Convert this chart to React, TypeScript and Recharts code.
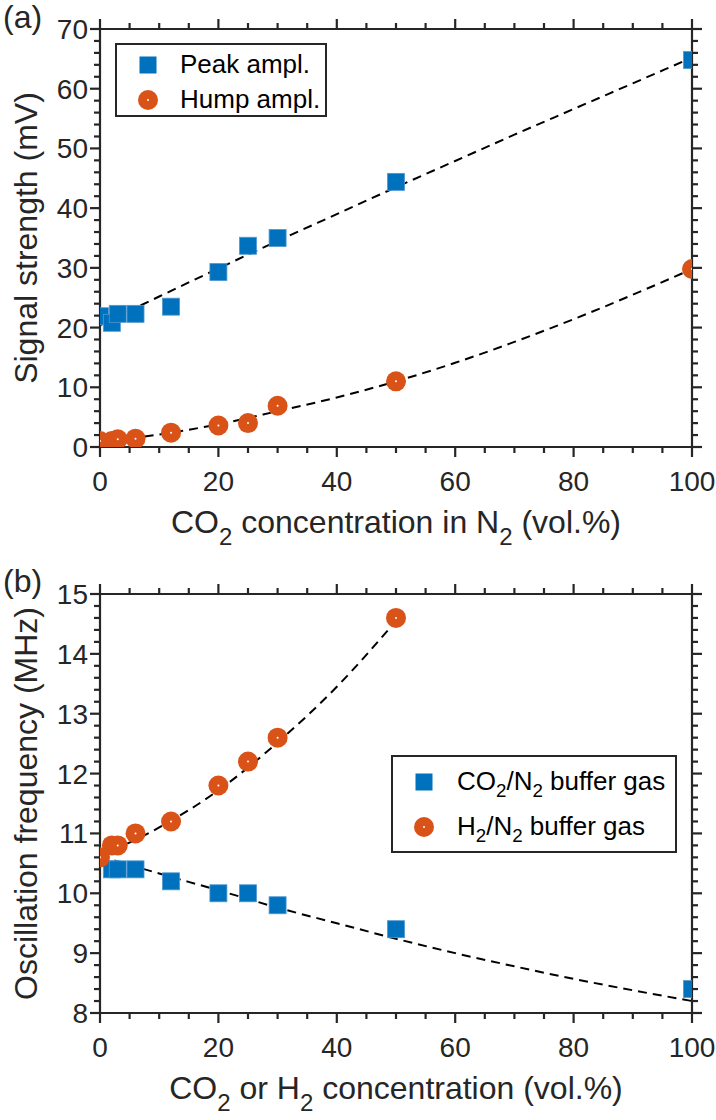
import React from "react";
import { ComposedChart, Scatter, Line, XAxis, YAxis, Legend } from "recharts";

const FONT = '"Liberation Sans", Arial, Helvetica, sans-serif';
const INK = "#262626";
const BLUE = "#0072BD";
const ORANGE = "#D95319";

// panel (a): signal strength vs CO2 concentration
const concA = [0, 2, 3, 6, 12, 20, 25, 30, 50, 100];
const peakAmpl = [21.9, 20.8, 22.3, 22.3, 23.5, 29.3, 33.7, 35.0, 44.4, 64.8];
const humpAmpl = [1.0, 1.0, 1.3, 1.4, 2.4, 3.6, 4.0, 6.9, 11.0, 29.8];
const fitXA = [0, 10, 20, 30, 40, 50, 60, 70, 80, 90, 100];
const peakFit = [20.4, 25.2, 29.9, 34.5, 39.0, 43.5, 47.9, 52.3, 56.6, 60.9, 65.2];
const humpFit = [0.8, 2.1, 3.8, 6.0, 8.3, 11.0, 14.1, 17.6, 21.4, 25.5, 29.8];

// panel (b): oscillation frequency vs CO2 / H2 concentration
const concCO2 = [0, 2, 3, 6, 12, 20, 25, 30, 50, 100];
const co2Freq = [10.6, 10.4, 10.4, 10.4, 10.2, 10.0, 10.0, 9.8, 9.4, 8.4];
const concH2 = [0, 2, 3, 6, 12, 20, 25, 30, 50];
const h2Freq = [10.6, 10.8, 10.8, 11.0, 11.2, 11.8, 12.2, 12.6, 14.6];
const fitXCO2 = [0, 10, 20, 30, 40, 50, 60, 70, 80, 90, 100];
const co2Fit = [10.62, 10.33, 10.05, 9.76, 9.5, 9.24, 9.0, 8.78, 8.57, 8.38, 8.2];
const fitXH2 = [0, 10, 20, 30, 40, 50];
const h2Fit = [10.62, 11.1, 11.72, 12.52, 13.45, 14.55];

// tick positions (major ones get labels)
const xTicks = [0, 5, 10, 15, 20, 25, 30, 35, 40, 45, 50, 55, 60, 65, 70, 75, 80, 85, 90, 95, 100];
const yTicksA = Array.from({ length: 36 }, (_, i) => i * 2);
const yTicksB = Array.from({ length: 36 }, (_, i) => +(8 + i * 0.2).toFixed(1));

const pts = (xs: number[], ys: number[]) => xs.map((x, i) => ({ x, y: ys[i] }));

const isMajor = (v: number, step: number) => Math.abs(v / step - Math.round(v / step)) < 1e-6;

function makeTick(side: "bottom" | "top" | "left" | "right", step: number, labels: boolean) {
  return (p: any) => {
    const { x, y, payload } = p;
    const v = payload.value;
    const major = isMajor(v, step);
    const len = major ? 10 : 6;
    let line;
    if (side === "bottom") line = <line x1={x} x2={x} y1={y} y2={y + len} stroke={INK} strokeWidth={2.2} />;
    else if (side === "top") line = <line x1={x} x2={x} y1={y} y2={y - len} stroke={INK} strokeWidth={2.2} />;
    else if (side === "left") line = <line x1={x} x2={x - len} y1={y} y2={y} stroke={INK} strokeWidth={2.2} />;
    else line = <line x1={x} x2={x + len} y1={y} y2={y} stroke={INK} strokeWidth={2.2} />;
    return (
      <g>
        {line}
        {labels && major && side === "bottom" && (
          <text x={x} y={y + 44} textAnchor="middle" fontSize={28} fill={INK} fontFamily={FONT}>
            {v}
          </text>
        )}
        {labels && major && side === "left" && (
          <text x={x - 12} y={y + 10} textAnchor="end" fontSize={28} fill={INK} fontFamily={FONT}>
            {v}
          </text>
        )}
      </g>
    );
  };
}

const squareShape = (p: any) => (
  <rect x={p.cx - 8.5} y={p.cy - 8.5} width={17} height={17} fill={BLUE} stroke="#4f97d3" strokeWidth={0.8} />
);
const circleShape = (p: any) => (
  <g>
    <circle cx={p.cx} cy={p.cy} r={10} fill={ORANGE} />
    <circle cx={p.cx} cy={p.cy} r={1} fill="#fff" />
  </g>
);

function Marker({ kind }: { kind: string }) {
  return (
    <svg width={22} height={22} style={{ display: "block" }}>
      {kind === "square" ? (
        <rect x={2.5} y={2.5} width={17} height={17} fill={BLUE} />
      ) : (
        <g>
          <circle cx={11} cy={11} r={10} fill={ORANGE} />
          <circle cx={11} cy={11} r={1} fill="#fff" />
        </g>
      )}
    </svg>
  );
}

const subStyle: React.CSSProperties = { fontSize: "0.72em", verticalAlign: "-0.38em", lineHeight: 0 };

function LegendBox({ width, height, rowH, padTop, textX, rows }: any) {
  return (
    <div
      style={{
        width,
        height,
        boxSizing: "border-box",
        border: `2px solid ${INK}`,
        background: "#fff",
        paddingTop: padTop,
        fontFamily: FONT,
        fontSize: 26,
        color: "#000",
      }}
    >
      {rows.map((r: any, i: number) => (
        <div key={i} style={{ height: rowH, display: "flex", alignItems: "center", position: "relative" }}>
          <div style={{ position: "absolute", left: 20 }}>
            <Marker kind={r.kind} />
          </div>
          <div style={{ position: "absolute", left: textX - 2, whiteSpace: "nowrap" }}>{r.label}</div>
        </div>
      ))}
    </div>
  );
}

const yLabelA = (props: any) => {
  const vb = props.viewBox;
  return (
    <g fontFamily={FONT} fill={INK}>
      <text x={3} y={28} fontSize={32}>(a)</text>
      <text transform={`translate(37, ${vb.y + vb.height / 2}) rotate(-90)`} textAnchor="middle" fontSize={32}>
        Signal strength (mV)
      </text>
    </g>
  );
};

const xLabelA = (props: any) => {
  const vb = props.viewBox;
  return (
    <text x={vb.x + vb.width / 2} y={vb.y + 86} textAnchor="middle" fontSize={32} fontFamily={FONT} fill={INK}>
      <tspan>CO</tspan>
      <tspan fontSize={24} dy={12}>2</tspan>
      <tspan dy={-12}> concentration in N</tspan>
      <tspan fontSize={24} dy={12}>2</tspan>
      <tspan dy={-12}> (vol.%)</tspan>
    </text>
  );
};

const yLabelB = (props: any) => {
  const vb = props.viewBox;
  return (
    <g fontFamily={FONT} fill={INK}>
      <text x={3} y={26} fontSize={32}>(b)</text>
      <text transform={`translate(37, ${vb.y + vb.height / 2}) rotate(-90)`} textAnchor="middle" fontSize={32}>
        Oscillation frequency (MHz)
      </text>
    </g>
  );
};

const xLabelB = (props: any) => {
  const vb = props.viewBox;
  return (
    <text x={vb.x + vb.width / 2} y={vb.y + 86} textAnchor="middle" fontSize={32} fontFamily={FONT} fill={INK}>
      <tspan>CO</tspan>
      <tspan fontSize={24} dy={12}>2</tspan>
      <tspan dy={-12}> or H</tspan>
      <tspan fontSize={24} dy={12}>2</tspan>
      <tspan dy={-12}> concentration (vol.%)</tspan>
    </text>
  );
};

const axisLine = { stroke: INK, strokeWidth: 2.2 };

function Frame({ yDomain, yTicks, yStep, xLabel, yLabel, topH, bottomH }: any) {
  return [
    <XAxis
      key="xb"
      xAxisId="b"
      dataKey="x"
      type="number"
      domain={[0, 100]}
      allowDataOverflow
      ticks={xTicks}
      interval={0}
      orientation="bottom"
      height={bottomH}
      tickSize={0}
      tickMargin={0}
      tickLine={false}
      axisLine={axisLine}
      tick={makeTick("bottom", 20, true)}
      label={xLabel}
    />,
    <XAxis
      key="xt"
      xAxisId="t"
      dataKey="x"
      type="number"
      domain={[0, 100]}
      allowDataOverflow
      ticks={xTicks}
      interval={0}
      orientation="top"
      height={topH}
      tickSize={0}
      tickMargin={0}
      tickLine={false}
      axisLine={axisLine}
      tick={makeTick("top", 20, false)}
    />,
    <YAxis
      key="yl"
      yAxisId="l"
      dataKey="y"
      type="number"
      domain={yDomain}
      allowDataOverflow
      ticks={yTicks}
      interval={0}
      orientation="left"
      width={100}
      tickSize={0}
      tickMargin={0}
      tickLine={false}
      axisLine={axisLine}
      tick={makeTick("left", yStep, true)}
      label={yLabel}
    />,
    <YAxis
      key="yr"
      yAxisId="r"
      dataKey="y"
      type="number"
      domain={yDomain}
      allowDataOverflow
      ticks={yTicks}
      interval={0}
      orientation="right"
      width={24}
      tickSize={0}
      tickMargin={0}
      tickLine={false}
      axisLine={axisLine}
      tick={makeTick("right", yStep, false)}
    />,
  ];
}

function PanelA() {
  return (
    <ComposedChart width={716} height={566} margin={{ top: 0, right: 0, bottom: 0, left: 0 }}>
      {Frame({ yDomain: [0, 70], yTicks: yTicksA, yStep: 10, xLabel: xLabelA, yLabel: yLabelA, topH: 29, bottomH: 119 })}
      <Scatter name="Peak ampl." data={pts(concA, peakAmpl)} xAxisId="b" yAxisId="l" shape={squareShape} isAnimationActive={false} />
      <Scatter name="Hump ampl." data={pts(concA, humpAmpl)} xAxisId="b" yAxisId="l" shape={circleShape} isAnimationActive={false} />
      <Line data={pts(fitXA, peakFit)} dataKey="y" xAxisId="b" yAxisId="l" type="monotone" stroke="#000" strokeWidth={2} strokeDasharray="9 6" dot={false} legendType="none" isAnimationActive={false} />
      <Line data={pts(fitXA, humpFit)} dataKey="y" xAxisId="b" yAxisId="l" type="monotone" stroke="#000" strokeWidth={2} strokeDasharray="9 6" dot={false} legendType="none" isAnimationActive={false} />
      <Legend
        layout="vertical"
        align="center"
        verticalAlign="middle"
        wrapperStyle={{ left: 115, top: 43, width: 212, height: 74 }}
        content={() => (
          <LegendBox
            width={212}
            height={74}
            rowH={35}
            padTop={2}
            textX={65}
            rows={[
              { kind: "square", label: "Peak ampl." },
              { kind: "circle", label: "Hump ampl." },
            ]}
          />
        )}
      />
    </ComposedChart>
  );
}

function PanelB() {
  return (
    <ComposedChart width={716} height={554} margin={{ top: 0, right: 0, bottom: 0, left: 0 }}>
      {Frame({ yDomain: [8, 15], yTicks: yTicksB, yStep: 1, xLabel: xLabelB, yLabel: yLabelB, topH: 28, bottomH: 107 })}
      <Scatter name="CO2/N2 buffer gas" data={pts(concCO2, co2Freq)} xAxisId="b" yAxisId="l" shape={squareShape} isAnimationActive={false} />
      <Scatter name="H2/N2 buffer gas" data={pts(concH2, h2Freq)} xAxisId="b" yAxisId="l" shape={circleShape} isAnimationActive={false} />
      <Line data={pts(fitXCO2, co2Fit)} dataKey="y" xAxisId="b" yAxisId="l" type="monotone" stroke="#000" strokeWidth={2} strokeDasharray="9 6" dot={false} legendType="none" isAnimationActive={false} />
      <Line data={pts(fitXH2, h2Fit)} dataKey="y" xAxisId="b" yAxisId="l" type="monotone" stroke="#000" strokeWidth={2} strokeDasharray="9 6" dot={false} legendType="none" isAnimationActive={false} />
      <Legend
        layout="vertical"
        align="center"
        verticalAlign="middle"
        wrapperStyle={{ left: 391, top: 189, width: 286, height: 98 }}
        content={() => (
          <LegendBox
            width={286}
            height={98}
            rowH={45}
            padTop={2}
            textX={66}
            rows={[
              { kind: "square", label: <span>CO<sub style={subStyle}>2</sub>/N<sub style={subStyle}>2</sub> buffer gas</span> },
              { kind: "circle", label: <span>H<sub style={subStyle}>2</sub>/N<sub style={subStyle}>2</sub> buffer gas</span> },
            ]}
          />
        )}
      />
    </ComposedChart>
  );
}

export default function App() {
  return (
    <div style={{ position: "absolute", left: 0, top: 0, width: 716, height: 1120, background: "#fff" }}>
      <PanelA />
      <PanelB />
    </div>
  );
}
